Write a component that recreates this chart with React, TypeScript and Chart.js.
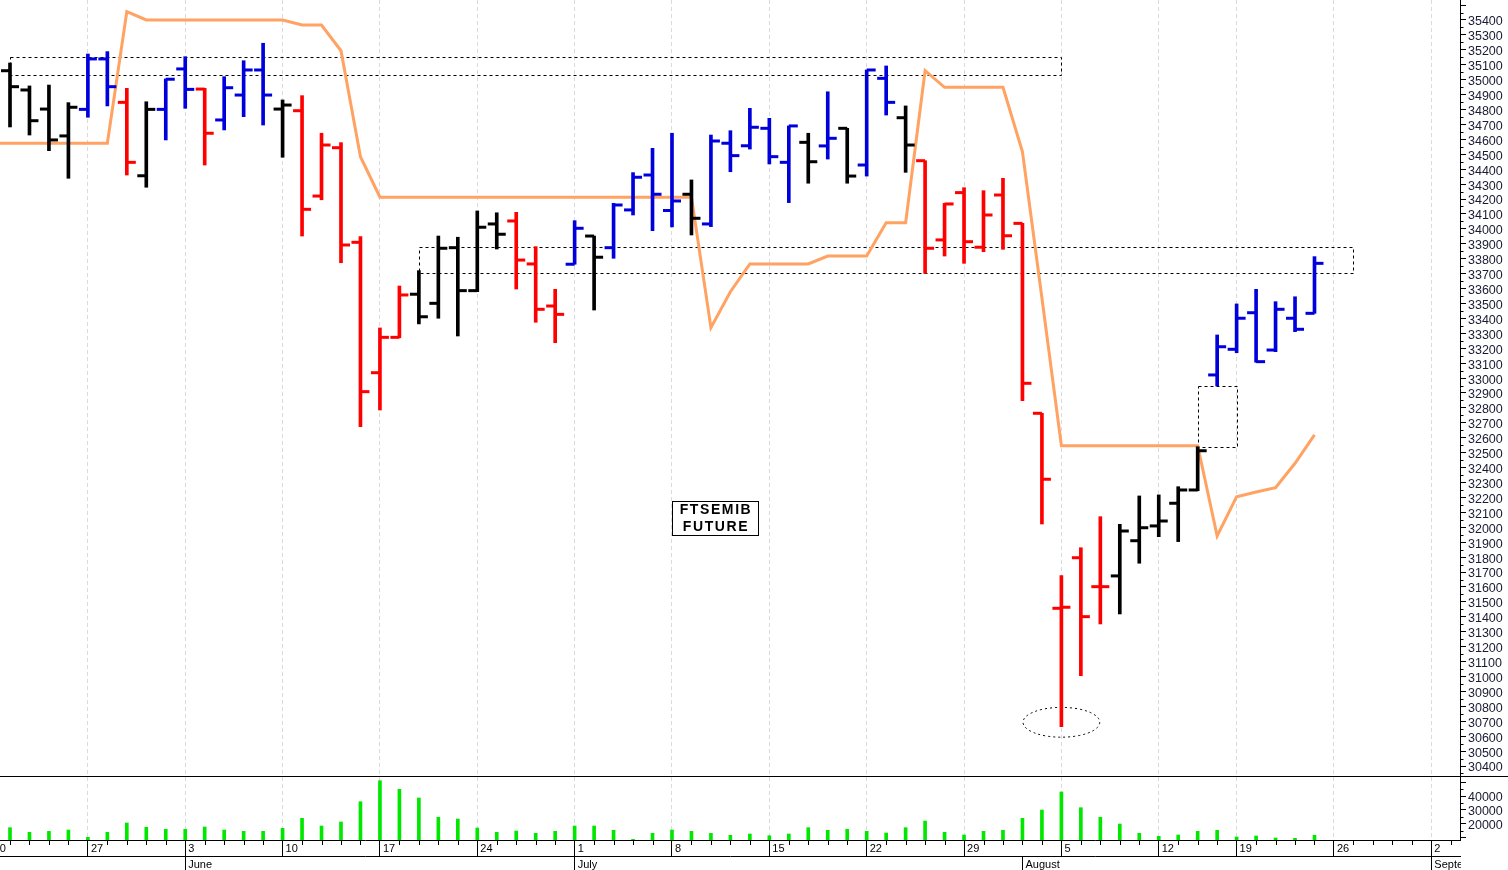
import React, { useEffect, useRef } from "react";
import { Chart, registerables } from "chart.js";

Chart.register(...registerables);

// ---- x axis: trading-day index 0 = Mon 20 May 2024 (15 Aug holiday skipped) ----
const weekTickIndex = [0, 5, 10, 15, 20, 25, 30, 35, 40, 45, 50, 55, 60, 64, 69, 74];
const weekTickLabels = ["20", "27", "3", "10", "17", "24", "1", "8", "15", "22", "29", "5", "12", "19", "26", "2"];
const monthTickIndex = [10, 30, 53, 74];
const monthTickLabels = ["June", "July", "August", "September"];
const dayCount = 76;
const firstBarIndex = 1; // first drawn session: 21 May

// ---- y axes ----
const priceTicks = [
  30400, 30500, 30600, 30700, 30800, 30900, 31000, 31100, 31200, 31300, 31400, 31500, 31600,
  31700, 31800, 31900, 32000, 32100, 32200, 32300, 32400, 32500, 32600, 32700, 32800, 32900,
  33000, 33100, 33200, 33300, 33400, 33500, 33600, 33700, 33800, 33900, 34000, 34100, 34200,
  34300, 34400, 34500, 34600, 34700, 34800, 34900, 35000, 35100, 35200, 35300, 35400, 35500,
];
const priceLabelMax = 35400;
const volumeTicks = [10000, 20000, 30000, 40000, 50000];
const volumeLabels = [20000, 30000, 40000];
const volumeMinorTicks = [15000, 25000, 35000, 45000];

// ---- OHLC sessions (21 May .. 23 Aug 2024) ----
const opens = [
  35060, 34931, 34803, 34623, 34801, 35139, 34848, 34356, 34801, 35072,
  34937, 34730, 34897, 35065, 34803, 34792, 34220, 34544, 33910, 33036,
  33273, 33562, 33501, 33874, 33586, 34033, 34053, 33765, 33483, 33763,
  33952, 33874, 34127, 34361, 34123, 34232, 34033, 34574, 34557, 34674,
  34446, 34580, 34556, 34674, 34428, 35009, 34745, 34457, 33926, 34243,
  33877, 34227, 34037, 32764, 31457, 31796, 31602, 31674, 31910, 32009,
  32161, 32250, 33021, 33193, 33438, 33188, 33401, 33434,
];
const highs = [
  35112, 34958, 34964, 34846, 35172, 35188, 34942, 34852, 35005, 35154,
  34942, 35020, 35127, 35244, 34864, 34893, 34641, 34578, 33948, 33336,
  33617, 33720, 33952, 33944, 34120, 34108, 34111, 33881, 33595, 34055,
  33952, 34171, 34377, 34540, 34641, 34328, 34629, 34658, 34808, 34741,
  34690, 34641, 34919, 34674, 35065, 35092, 34824, 34457, 34171, 34276,
  34256, 34339, 34037, 32764, 31676, 31863, 32071, 32020, 32210, 32217,
  32272, 32540, 33289, 33497, 33595, 33512, 33545, 33814,
];
const lows = [
  34683, 34629, 34524, 34339, 34748, 34824, 34361, 34279, 34596, 34808,
  34428, 34663, 34752, 34696, 34480, 33952, 34195, 33773, 32674, 32786,
  33270, 33363, 33401, 33282, 33579, 33865, 33597, 33374, 33237, 33763,
  33456, 33803, 34093, 33988, 34013, 33959, 34015, 34383, 34535, 34435,
  34176, 34306, 34468, 34306, 34354, 34763, 34379, 33702, 33818, 33769,
  33847, 33863, 32848, 32022, 30664, 31005, 31352, 31419, 31759, 31937,
  31904, 32245, 32947, 33170, 33106, 33177, 33311, 33434,
];
const closes = [
  34953, 34725, 34596, 34815, 35139, 34953, 34446, 34801, 35003, 34935,
  34641, 34946, 35065, 34897, 34830, 34131, 34562, 33892, 32909, 33273,
  33557, 33411, 33870, 33586, 34011, 33964, 33791, 33461, 33427, 34004,
  33810, 34160, 34346, 34232, 34187, 34071, 34589, 34491, 34681, 34484,
  34690, 34450, 34607, 34354, 35065, 34848, 34562, 33870, 34167, 33914,
  34093, 33954, 32965, 32322, 31464, 31401, 31602, 31975, 31997, 32042,
  32250, 32513, 33210, 33401, 33110, 33461, 33327, 33769,
];
// k = black, r = red, b = blue
const barColors = [
  "k", "k", "k", "k", "b", "b", "r", "k", "b", "b",
  "r", "b", "b", "b", "k", "r", "r", "r", "r", "r",
  "r", "k", "k", "k", "k", "k", "r", "r", "r", "b",
  "k", "b", "b", "b", "b", "k", "b", "b", "b", "b",
  "b", "k", "b", "k", "b", "b", "k", "r", "r", "r",
  "r", "r", "r", "r", "r", "r", "r", "k", "k", "k",
  "k", "k", "b", "b", "b", "b", "b", "b",
];
const volumes = [
  17380, 14070, 14760, 15710, 10500, 14070, 20710, 17640, 16210, 16210,
  17860, 15710, 14760, 14760, 16930, 24070, 18570, 21430, 35930, 50930,
  44780, 38570, 24780, 23570, 17140, 14070, 15000, 13360, 14760, 18570,
  18570, 15500, 9070, 13360, 15710, 14760, 13360, 11930, 12860, 11640,
  12860, 17380, 15500, 16210, 14760, 13570, 17380, 22140, 14070, 12140,
  14760, 15500, 24070, 30000, 42860, 31640, 24780, 20000, 13360, 11210,
  12140, 14760, 15500, 10710, 11430, 10000, 9780, 11930,
];
// orange indicator line, from 20 May (index 0)
const signalLine = [
  34574, 34574, 34574, 34574, 34574, 34574, 34574, 35456, 35400, 35400,
  35400, 35400, 35400, 35400, 35400, 35400, 35366, 35366, 35194, 34484,
  34212, 34212, 34212, 34212, 34212, 34212, 34212, 34212, 34212, 34212,
  34212, 34212, 34212, 34212, 34212, 34212, 34212, 33338, 33579, 33765,
  33765, 33765, 33765, 33818, 33818, 33818, 34041, 34041, 35060, 34949,
  34949, 34949, 34949, 34517, 33537, 32547, 32547, 32547, 32547, 32547,
  32547, 32547, 32547, 31942, 32205, 32237, 32265, 32429, 32619,
];

// ---- annotations (data units): [xFrom, xTo, yLow, yHigh] ----
const dottedBoxes: [number, number, number, number][] = [
  [1, 54.96, 35031, 35152],
  [22, 69.96, 33702, 33877],
  [62, 64, 32540, 32947],
];
const lowEllipse = { x: 55, y: 30693, rx: 1.97, ry: 100 };
const titleBox = { x: 37.21, y: 32062, lines: ["FTSEMIB", "FUTURE"] };

const X_MIN = 0.4864;
const X_MAX = 75.473;
const PRICE_MIN = 30333;
const PRICE_MAX = 35534;
const VOL_MIN = 8571;
const VOL_MAX = 54286;

const BLACK = "#000000";
const RED = "#FF0000";
const BLUE = "#0000DD";
const ORANGE = "#FFA262";
const GREEN = "#00E800";
const GRID = "#D9D9E2";
const AXIS_TEXT = "#1a1a33";
const FONT = "'Liberation Sans', Arial, sans-serif";

const overlayPlugin = {
  id: "overlay",
  beforeDatasetsDraw(chart: any) {
    const { ctx } = chart;
    const xs = chart.scales.x;
    const ys = chart.scales.y;
    ctx.save();
    ctx.strokeStyle = "#000";
    ctx.lineWidth = 1;
    ctx.setLineDash([3, 3]);
    for (const [a, b, lo, hi] of dottedBoxes) {
      const x1 = Math.round(xs.getPixelForValue(a)) + 0.5;
      const x2 = Math.round(xs.getPixelForValue(b)) + 0.5;
      const y1 = Math.round(ys.getPixelForValue(hi)) + 0.5;
      const y2 = Math.round(ys.getPixelForValue(lo)) + 0.5;
      ctx.strokeRect(x1, y1, x2 - x1, y2 - y1);
    }
    const cx = xs.getPixelForValue(lowEllipse.x);
    const cy = ys.getPixelForValue(lowEllipse.y);
    const rx = Math.abs(xs.getPixelForValue(lowEllipse.x + lowEllipse.rx) - cx);
    const ry = Math.abs(ys.getPixelForValue(lowEllipse.y + lowEllipse.ry) - cy);
    ctx.setLineDash([2, 3]);
    ctx.beginPath();
    ctx.ellipse(cx, cy, rx, ry, 0, 0, Math.PI * 2);
    ctx.stroke();
    ctx.restore();
  },
  afterDraw(chart: any) {
    const { ctx } = chart;
    const xs = chart.scales.x;
    const ys = chart.scales.y;
    const y2s = chart.scales.y2;
    ctx.save();
    ctx.strokeStyle = "#000";
    ctx.lineWidth = 1;
    ctx.setLineDash([]);
    // panel separator
    const sepY = Math.round(ys.bottom) + 0.5;
    ctx.beginPath();
    ctx.moveTo(0, sepY);
    ctx.lineTo(chart.width, sepY);
    ctx.stroke();
    // minor price ticks
    const axisX = Math.round(ys.left) + 0.5;
    ctx.beginPath();
    for (let k = 0; k < priceTicks.length; k++) {
      const v = priceTicks[k] - 50;
      if (v < PRICE_MIN) continue;
      const p = Math.round(ys.getPixelForValue(v)) + 0.5;
      ctx.moveTo(axisX, p);
      ctx.lineTo(axisX + 3, p);
    }
    for (const v of volumeMinorTicks) {
      const p = Math.round(y2s.getPixelForValue(v)) + 0.5;
      ctx.moveTo(axisX, p);
      ctx.lineTo(axisX + 3, p);
    }
    // daily ticks on the time axis
    for (let i = 0; i < dayCount; i++) {
      if (weekTickIndex.includes(i)) continue;
      const p = Math.round(xs.getPixelForValue(i)) + 0.5;
      if (p < xs.left || p > xs.right) continue;
      ctx.moveTo(p, xs.top);
      ctx.lineTo(p, xs.top + 5);
    }
    ctx.stroke();
    // hide month label overflow under the price axis
    ctx.fillStyle = "#fff";
    ctx.fillRect(Math.round(xs.right) + 1, xs.top + 1, chart.width - xs.right, chart.height - xs.top);
    // title box
    const tx = xs.getPixelForValue(titleBox.x);
    const ty = ys.getPixelForValue(titleBox.y);
    const bw = 86;
    const bh = 34;
    const bx = Math.round(tx - bw / 2) + 0.5;
    const by = Math.round(ty - bh / 2) + 0.5;
    ctx.fillStyle = "#fff";
    ctx.fillRect(bx, by, bw, bh);
    ctx.strokeRect(bx, by, bw, bh);
    ctx.fillStyle = "#000";
    ctx.font = `bold 14px ${FONT}`;
    (ctx as any).letterSpacing = "1.6px";
    ctx.textAlign = "center";
    ctx.textBaseline = "middle";
    ctx.fillText(titleBox.lines[0], tx + 1, ty - 8);
    ctx.fillText(titleBox.lines[1], tx + 1, ty + 9);
    ctx.restore();
  },
};

export default function App() {
  const ref = useRef<HTMLCanvasElement>(null);
  useEffect(() => {
    const canvas = ref.current;
    if (!canvas) return;
    const barX = opens.map((_, k) => k + firstBarIndex);
    const colors = barColors.map((c) => (c === "r" ? RED : c === "b" ? BLUE : BLACK));
    const chart = new Chart(canvas, {
      type: "scatter",
      data: {
        datasets: [
          {
            type: "line",
            label: "open",
            data: barX.map((x, k) => ({ x, y: opens[k] })),
            showLine: false,
            pointStyle: "dash",
            pointRadius: 9,
            pointRotation: 180,
            pointBorderWidth: 3,
            pointBorderColor: colors,
            pointBackgroundColor: colors,
            yAxisID: "y",
            order: 1,
          },
          {
            type: "line",
            label: "close",
            data: barX.map((x, k) => ({ x, y: closes[k] })),
            showLine: false,
            pointStyle: "dash",
            pointRadius: 9,
            pointRotation: 0,
            pointBorderWidth: 3,
            pointBorderColor: colors,
            pointBackgroundColor: colors,
            yAxisID: "y",
            order: 1,
          },
          {
            type: "bar",
            label: "range",
            data: barX.map((x, k) => ({ x, y: [lows[k], highs[k]] })),
            backgroundColor: colors,
            borderWidth: 0,
            barThickness: 3,
            grouped: false,
            yAxisID: "y",
            order: 2,
          },
          {
            type: "line",
            label: "signal",
            data: signalLine.map((y, i) => ({ x: i, y })),
            borderColor: ORANGE,
            borderWidth: 3,
            pointRadius: 0,
            tension: 0,
            fill: false,
            yAxisID: "y",
            order: 3,
          },
          {
            type: "bar",
            label: "volume",
            data: barX.map((x, k) => ({ x, y: volumes[k] })),
            backgroundColor: GREEN,
            borderWidth: 0,
            barThickness: 3,
            grouped: false,
            yAxisID: "y2",
            order: 2,
          },
        ] as any,
      },
      options: {
        responsive: false,
        animation: false,
        devicePixelRatio: 1,
        events: [],
        layout: { padding: 0, autoPadding: false },
        plugins: { legend: { display: false }, tooltip: { enabled: false } },
        scales: {
          x: {
            type: "linear",
            position: "bottom",
            min: X_MIN,
            max: X_MAX,
            bounds: "data",
            offset: false,
            weight: 0,
            afterBuildTicks: (s: any) => {
              s.ticks = weekTickIndex.map((v) => ({ value: v }));
            },
            afterFit: (s: any) => {
              s.height = 16;
              s.paddingLeft = 0;
              s.paddingRight = 0;
            },
            grid: {
              offset: false,
              color: GRID,
              lineWidth: 1,
              drawOnChartArea: true,
              tickLength: 16,
              tickColor: "#000",
              tickWidth: 1,
            },
            border: { display: true, color: "#000", width: 1, dash: [4, 3] },
            ticks: {
              autoSkip: false,
              maxRotation: 0,
              minRotation: 0,
              align: "start",
              labelOffset: 3,
              padding: -14,
              color: "#000",
              font: { family: FONT, size: 11 },
              callback: (_v: any, i: number) => weekTickLabels[i] ?? "",
            },
          },
          x2: {
            type: "linear",
            position: "bottom",
            min: X_MIN,
            max: X_MAX,
            bounds: "data",
            offset: false,
            weight: 1,
            afterBuildTicks: (s: any) => {
              s.ticks = monthTickIndex.map((v) => ({ value: v }));
            },
            afterFit: (s: any) => {
              s.height = 14;
              s.paddingLeft = 0;
              s.paddingRight = 0;
            },
            grid: {
              offset: false,
              drawOnChartArea: false,
              tickLength: 14,
              tickColor: "#000",
              tickWidth: 1,
            },
            border: { display: true, color: "#000", width: 1 },
            ticks: {
              autoSkip: false,
              maxRotation: 0,
              minRotation: 0,
              align: "start",
              labelOffset: 3,
              padding: -12,
              color: "#000",
              font: { family: FONT, size: 11 },
              callback: (_v: any, i: number) => monthTickLabels[i] ?? "",
            },
          },
          y: {
            type: "linear",
            position: "right",
            stack: "right",
            stackWeight: 776,
            min: PRICE_MIN,
            max: PRICE_MAX,
            bounds: "data",
            beginAtZero: false,
            afterBuildTicks: (s: any) => {
              s.ticks = priceTicks.map((v) => ({ value: v }));
            },
            afterFit: (s: any) => {
              s.width = 48;
              s.paddingTop = 0;
              s.paddingBottom = 0;
            },
            grid: { drawOnChartArea: false, tickLength: 6, tickColor: "#000", tickWidth: 1 },
            border: { display: true, color: "#000", width: 1 },
            ticks: {
              autoSkip: false,
              padding: 2,
              labelOffset: 2,
              color: AXIS_TEXT,
              font: { family: FONT, size: 12.5 },
              callback: (v: any) => (Number(v) <= priceLabelMax ? String(v) : ""),
            },
          },
          y2: {
            type: "linear",
            position: "right",
            stack: "right",
            stackWeight: 64,
            min: VOL_MIN,
            max: VOL_MAX,
            bounds: "data",
            beginAtZero: false,
            afterBuildTicks: (s: any) => {
              s.ticks = volumeTicks.map((v) => ({ value: v }));
            },
            afterFit: (s: any) => {
              s.width = 48;
              s.paddingTop = 0;
              s.paddingBottom = 0;
            },
            grid: { drawOnChartArea: false, tickLength: 6, tickColor: "#000", tickWidth: 1 },
            border: { display: true, color: "#000", width: 1 },
            ticks: {
              autoSkip: false,
              padding: 2,
              labelOffset: 2,
              color: AXIS_TEXT,
              font: { family: FONT, size: 12.5 },
              callback: (v: any) => (volumeLabels.includes(Number(v)) ? String(v) : ""),
            },
          },
        },
      } as any,
      plugins: [overlayPlugin],
    });
    return () => chart.destroy();
  }, []);
  return (
    <div style={{ position: "fixed", left: 0, top: 0, width: 1508, height: 870, background: "#fff" }}>
      <canvas ref={ref} width={1508} height={870} style={{ display: "block" }} />
    </div>
  );
}
